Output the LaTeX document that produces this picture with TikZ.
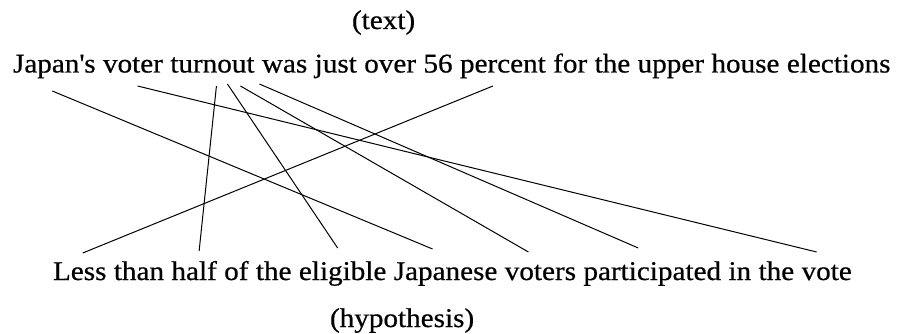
\documentclass[tikz,border=0pt]{standalone}
\usepackage{fontspec}
\setmainfont{Liberation Serif}[FakeStretch=1.08,FakeBold=0.6]
\usetikzlibrary{positioning,calc}

\begin{document}
\begin{tikzpicture}[
    x=1pt, y=-1pt,
    font=\fontsize{27}{32}\selectfont,
    node distance=7.4pt,
    word/.style={inner sep=0pt, outer sep=0pt, anchor=base west},
    link/.style={line width=1pt}
  ]
    \useasboundingbox (0,0) rectangle (900,334);
    % text sentence, one node per word
    \node[word] (lbltext) at (352,29) {(text)};
    \node[word] (t1) at (13,72.5) {Japan\textquotesingle s};
    \foreach \w [count=\i from 2] in {voter,turnout,was,just,over,56,percent,for,the,upper,house,elections}{
      \pgfmathtruncatemacro{\j}{\i-1}
      \node[word, base right=of t\j] (t\i) {\w};
    }
    % hypothesis sentence
    \node[word] (h1) at (53,280) {Less};
    \foreach \w [count=\i from 2] in {than,half,of,the,eligible,Japanese,voters,participated,in,the,vote}{
      \pgfmathtruncatemacro{\j}{\i-1}
      \node[word, base right=of h\j] (h\i) {\w};
    }
    \node[word] (lblhyp) at (330,327) {(hypothesis)};
    % alignment links
    \draw[link] ($(t1.base)+(-2,18.5)$) -- ($(h7.base)+(-13,-31)$);
    \draw[link] ($(t2.base)+(4.6,13.5)$) -- ($(h12.base)+(-10,-28)$);
    \draw[link] ($(t3.base)+(4,13.5)$) -- ($(h3.base)+(5,-29)$);
    \draw[link] ($(t3.base)+(15,11.5)$) -- ($(h6.base)+(-5,-32)$);
    \draw[link] ($(t3.base)+(28,13.5)$) -- ($(h8.base)+(-12,-28)$);
    \draw[link] ($(t3.base)+(47,11.5)$) -- ($(h9.base)+(-14,-32)$);
    \draw[link] ($(t8.base)+(-10,13.5)$) -- ($(h1.base)+(3,-27)$);
\end{tikzpicture}
\end{document}
